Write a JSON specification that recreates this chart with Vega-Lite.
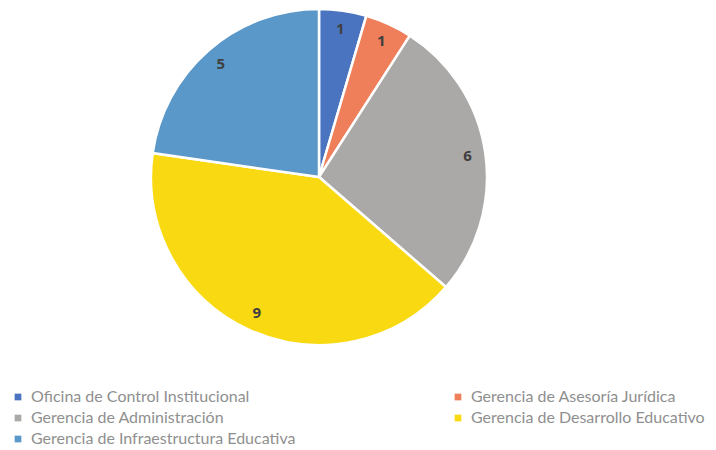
{
  "$schema": "https://vega.github.io/schema/vega-lite/v6.json",
  "width": 638,
  "height": 354,
  "autosize": {"type": "none"},
  "padding": {"left": 0, "top": 0, "right": 78, "bottom": 96},
  "background": "white",
  "config": {"view": {"stroke": null}},
  "data": {
    "values": [
      {"area": "Oficina de Control Institucional", "value": 1, "order": 1},
      {"area": "Gerencia de Asesoría Jurídica", "value": 1, "order": 2},
      {"area": "Gerencia de Administración", "value": 6, "order": 3},
      {"area": "Gerencia de Desarrollo Educativo", "value": 9, "order": 4},
      {"area": "Gerencia de Infraestructura Educativa", "value": 5, "order": 5}
    ]
  },
  "encoding": {
    "theta": {"field": "value", "type": "quantitative", "stack": true},
    "order": {"field": "order", "type": "quantitative"},
    "color": {
      "field": "area",
      "type": "nominal",
      "scale": {
        "domain": [
          "Oficina de Control Institucional",
          "Gerencia de Asesoría Jurídica",
          "Gerencia de Administración",
          "Gerencia de Desarrollo Educativo",
          "Gerencia de Infraestructura Educativa"
        ],
        "range": ["#4A74C0", "#EE7F5A", "#ABA9A7", "#F9D912", "#5A98C9"]
      },
      "legend": {
        "title": null,
        "orient": "none",
        "direction": "horizontal",
        "legendX": 10,
        "legendY": 389,
        "columns": 2,
        "columnPadding": 154,
        "rowPadding": 5,
        "symbolType": "square",
        "symbolSize": 45,
        "symbolStrokeWidth": 0,
        "labelFont": "Lato",
        "labelFontSize": 16,
        "labelColor": "#8f8f8f",
        "labelLimit": 400,
        "labelOffset": 5
      }
    }
  },
  "layer": [
    {
      "mark": {"type": "arc", "outerRadius": 168, "stroke": "white", "strokeWidth": 2.5}
    },
    {
      "mark": {"type": "text", "radius": 150, "font": "Open Sans", "fontSize": 15, "fontWeight": "bold", "fill": "#404040"},
      "encoding": {
        "text": {"field": "value", "type": "quantitative"},
        "color": {"value": "#404040"}
      }
    }
  ]
}
